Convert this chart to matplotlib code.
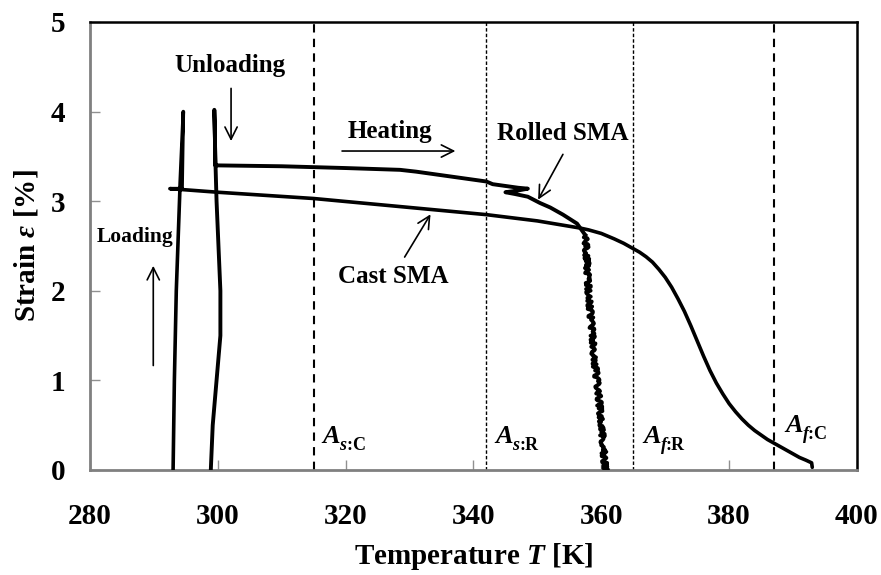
import matplotlib
matplotlib.use("Agg")
import matplotlib.pyplot as plt

plt.rcParams['font.family'] = ['Liberation Serif', 'DejaVu Serif']
plt.rcParams['font.weight'] = 'bold'
plt.rcParams['mathtext.fontset'] = 'custom'
plt.rcParams['mathtext.rm'] = 'Liberation Serif'
plt.rcParams['mathtext.it'] = 'Liberation Serif:italic'
plt.rcParams['mathtext.bf'] = 'Liberation Serif:bold'
plt.rcParams['mathtext.bfit'] = 'Liberation Serif:italic:bold'

# ---- data ----
cast_T = [293.0, 293.2, 293.5, 293.9, 294.1, 294.6, 294.5, 294.4, 292.5,
          300.0, 315.0, 328.5, 342.0, 350.0, 356.7, 358.0, 360.0, 362.0,
          363.5, 365.0, 366.0, 367.0, 368.0, 369.0, 370.0, 371.0, 372.0,
          373.0, 374.0, 375.0, 376.0, 377.0, 378.0, 379.0, 380.0, 381.0,
          382.0, 383.0, 384.0, 385.0, 386.0, 387.0, 388.0, 389.0, 390.0,
          391.0, 392.0, 392.9, 393.0]
cast_eps = [0.0, 1.0, 2.0, 2.8, 3.2, 4.0, 3.6, 3.14, 3.14,
            3.10, 3.03, 2.94, 2.85, 2.78, 2.70, 2.68, 2.64, 2.58,
            2.53, 2.47, 2.43, 2.38, 2.32, 2.24, 2.15, 2.04, 1.91,
            1.77, 1.61, 1.44, 1.27, 1.11, 0.97, 0.85, 0.74, 0.65,
            0.57, 0.50, 0.44, 0.39, 0.34, 0.30, 0.26, 0.22, 0.18,
            0.14, 0.11, 0.08, 0.03]

rolled_T = [298.9, 299.2, 299.8, 300.4, 300.4, 300.1, 299.8, 299.6, 299.45,
            299.55, 299.6, 310.0, 320.0, 328.5, 331.0, 334.0, 338.0, 342.0,
            343.0, 345.0, 347.0, 348.5, 347.0, 345.0, 346.5, 348.5, 350.4,
            352.0, 354.0, 356.2, 357.5]
rolled_eps = [0.0, 0.5, 1.0, 1.5, 2.0, 2.5, 3.0, 3.5, 4.02,
              3.7, 3.40, 3.39, 3.37, 3.35, 3.33, 3.30, 3.26, 3.22,
              3.19, 3.17, 3.15, 3.14, 3.12, 3.10, 3.08, 3.05, 2.98,
              2.93, 2.85, 2.75, 2.62]
# noisy recovery drop of rolled SMA
drop_T = [357.5, 357.7, 358.0, 358.5, 358.8, 359.5, 360.0, 360.4, 360.6]
drop_eps = [2.62, 2.40, 2.00, 1.60, 1.30, 0.90, 0.50, 0.20, 0.0]

# transformation temperatures (dashed lines)
temps_C = [315.0, 387.0]
temps_R = [342.0, 365.0]

xticks = [280, 300, 320, 340, 360, 380, 400]
yticks = [0, 1, 2, 3, 4, 5]

# ---- figure ----
fig = plt.figure(figsize=(8.81, 5.75), dpi=100)
ax = fig.add_axes([90/881, 1-470/575, (857-90)/881, (470-22)/575])

for t in temps_C:
    ax.axvline(t, color='black', lw=1.5, ls=(0, (4, 3)), zorder=1)
for t in temps_R:
    ax.axvline(t, color='black', lw=1.0, ls=(0, (2.5, 1.5)), zorder=1)

ax.plot(cast_T, cast_eps, color='black', lw=2.6, solid_joinstyle='round',
        solid_capstyle='round', zorder=3)
ax.plot(rolled_T, rolled_eps, color='black', lw=2.8, solid_joinstyle='round',
        solid_capstyle='round', zorder=3)
ln, = ax.plot(drop_T, drop_eps, color='black', lw=2.8, zorder=3)
ln.set_sketch_params(scale=2.5, length=5.0, randomness=4.0)

ax.set_xlim(280, 400)
ax.set_ylim(0, 5)
ax.set_xticks(xticks)
ax.set_yticks(yticks)
ax.set_xticklabels([str(v) for v in xticks])
ax.set_yticklabels([str(v) for v in yticks])
ax.tick_params(axis='x', direction='in', length=7, width=1, color='#909090',
               labelsize=21, pad=24)
ax.tick_params(axis='y', direction='in', length=7, width=1, color='#909090',
               labelsize=21, pad=18)
for lab in ax.get_xticklabels() + ax.get_yticklabels():
    lab.set_fontweight('bold')

ax.spines['left'].set_color('#808080')
ax.spines['bottom'].set_color('#808080')
ax.spines['left'].set_linewidth(2)
ax.spines['bottom'].set_linewidth(2)
ax.spines['top'].set_linewidth(1.8)
ax.spines['right'].set_linewidth(1.8)

ax.set_xlabel(r'Temperature $\mathbfit{T}$ [K]', fontsize=21, fontweight='bold')
ax.set_ylabel(r'Strain $\mathbfit{ε}$ [%]', fontsize=21, fontweight='bold')
ax.xaxis.set_label_coords(0.5, -0.158)
ax.yaxis.set_label_coords(-0.064, 0.5)

# annotations
arrow = dict(arrowstyle='->', lw=1.2, color='black', mutation_scale=22)
ax.text(301.9, 4.52, 'Unloading', fontsize=18, fontweight='bold', ha='center', va='center')
ax.annotate('', xy=(302.07, 3.64), xytext=(302.07, 4.29), arrowprops=arrow)
ax.text(326.9, 3.78, 'Heating', fontsize=18, fontweight='bold', ha='center', va='center')
ax.annotate('', xy=(337.6, 3.56), xytext=(319.0, 3.56), arrowprops=arrow)
ax.text(353.9, 3.76, 'Rolled SMA', fontsize=18, fontweight='bold', ha='center', va='center')
ax.annotate('', xy=(349.9, 2.99), xytext=(354.2, 3.55), arrowprops=arrow)
ax.text(327.5, 2.16, 'Cast SMA', fontsize=18, fontweight='bold', ha='center', va='center')
ax.annotate('', xy=(333.5, 2.88), xytext=(329.0, 2.35), arrowprops=arrow)
ax.text(287.0, 2.60, 'Loading', fontsize=15.5, fontweight='bold', ha='center', va='center')
ax.annotate('', xy=(289.9, 2.31), xytext=(289.9, 1.135), arrowprops=arrow)

# transformation temperature labels
lab_T = [316.2, 343.2, 366.3, 388.6]
lab_eps = [0.30, 0.30, 0.30, 0.42]
lab_sub = ['s', 's', 'f', 'f']
lab_mat = ['C', 'R', 'R', 'C']
for t, e, s, m in zip(lab_T, lab_eps, lab_sub, lab_mat):
    ax.text(t, e, r'$\mathbfit{A}$', fontsize=19, ha='left', va='baseline')
    ax.annotate(r'$\mathbfit{' + s + r'}$:' + m, xy=(t, e), xytext=(13, -5),
                textcoords='offset points', fontsize=13, fontweight='bold',
                ha='left', va='baseline')

fig.savefig('out.png', dpi=100)
